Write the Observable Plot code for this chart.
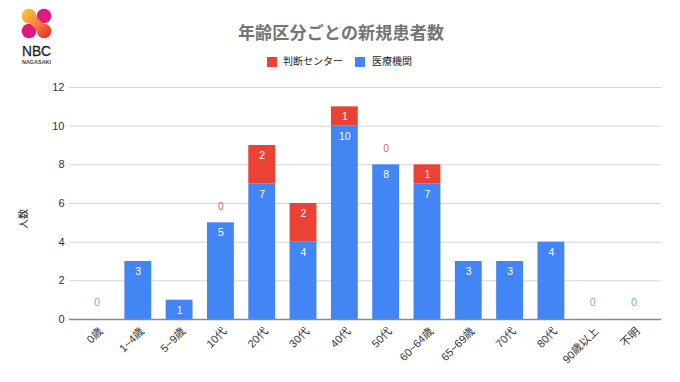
<!DOCTYPE html>
<html><head><meta charset="utf-8">
<script src="https://cdn.jsdelivr.net/npm/d3@7"></script>
<script src="https://cdn.jsdelivr.net/npm/@observablehq/plot@0.6"></script>
<style>
html,body{margin:0;padding:0;background:#fff;width:680px;height:382px;overflow:hidden;font-family:"Liberation Sans","Noto Sans CJK JP",sans-serif}
#wrap{position:relative;width:680px;height:382px}
#title{position:absolute;left:0;width:680px;top:23px;text-align:center;padding-left:2px;box-sizing:border-box;font-size:17px;font-weight:700;color:#757575;line-height:22px;letter-spacing:.2px}
#legend{position:absolute;top:55px;left:267px;font-size:10px;color:#222;line-height:14px;white-space:nowrap}
#legend span.s{position:absolute;top:2px;width:10px;height:10px}
#legend span.t{position:absolute;top:0}
#logo{position:absolute;left:19px;top:6px}
#ytitle{position:absolute;left:4px;top:212px;width:40px;text-align:center;font-size:10px;line-height:14px;color:#222;transform:rotate(-90deg)}
svg.plot{position:absolute;left:0;top:0}
</style></head><body><div id="wrap">
<div id="chart"></div>
<svg id="logo" width="40" height="60" viewBox="0 0 40 60">
<defs><linearGradient id="g" gradientUnits="userSpaceOnUse" x1="5" y1="5" x2="31" y2="31"><stop offset="0" stop-color="#fcc43c"/><stop offset="0.55" stop-color="#f5793a"/><stop offset="1" stop-color="#ea2a2a"/></linearGradient></defs>
<path d="M25 10 L10 25" stroke="#de1a7c" stroke-width="9"/>
<circle cx="25" cy="10" r="7.3" fill="#de1a7c"/><circle cx="10" cy="25" r="7.3" fill="#de1a7c"/>
<path d="M10 10 L25 25" stroke="url(#g)" stroke-width="9"/>
<circle cx="10" cy="10" r="7.3" fill="url(#g)"/><circle cx="25" cy="25" r="7.3" fill="url(#g)"/>
<text x="3" y="50" font-family="Liberation Sans" font-size="15" fill="#222" stroke="#222" stroke-width="0.3" textLength="29" lengthAdjust="spacingAndGlyphs">NBC</text>
<text x="3" y="57.5" font-family="Liberation Sans" font-size="5" font-weight="700" fill="#444" textLength="29" lengthAdjust="spacingAndGlyphs">NAGASAKI</text>
</svg>
<div id="title">年齢区分ごとの新規患者数</div>
<div id="legend"></div>
<div id="ytitle">人数</div>
</div>
<script>
const categories = ["0歳","1~4歳","5~9歳","10代","20代","30代","40代","50代","60~64歳","65~69歳","70代","80代","90歳以上","不明"];
const hospital = [0,3,1,5,7,4,10,8,7,3,3,4,0,0];
const center = [0,0,0,0,2,2,1,0,1,0,0,0,0,0];
const zeroCenterLabels = ["10代","50代"];
const zeroHospitalLabels = ["0歳","90歳以上","不明"];
const seriesNames = ["判断センター","医療機関"];
const seriesColors = ["#ea4335","#4285f4"];
const yTicks = [0,2,4,6,8,10,12];

const rows = categories.flatMap((c,i)=>[
  {c, s:seriesNames[1], v:hospital[i], base:0},
  {c, s:seriesNames[0], v:center[i], base:hospital[i]}
]);
const plot = Plot.plot({
  width:680, height:382,
  marginLeft:69, marginRight:19, marginTop:87, marginBottom:63,
  style:{background:"transparent", fontFamily:'"Liberation Sans","Noto Sans CJK JP",sans-serif'},
  x:{domain:categories, type:"band", paddingInner:0.35, paddingOuter:0.34, align:0.5, round:false, label:null},
  y:{domain:[0,12], label:null},
  color:{domain:seriesNames, range:seriesColors},
  marks:[
    Plot.ruleY(yTicks.filter(d=>d>0),{stroke:"#d6d6d6",strokeWidth:1}),
    Plot.rectY(rows.filter(d=>d.v>0),{x:"c",y1:"base",y2:d=>d.base+d.v,fill:"s"}),
    Plot.ruleY([0],{stroke:"#8a8a8a",strokeWidth:1.5}),
    Plot.axisY({ticks:yTicks,tickSize:0,tickPadding:5,fontSize:11,color:"#333",label:null}),
    Plot.axisX({tickSize:0,tickPadding:10,tickRotate:-45,fontSize:11,color:"#333",label:null,textAnchor:"end",dx:4}),
    Plot.text(rows.filter(d=>d.v>0),{x:"c",y:d=>d.base+d.v,text:"v",dy:10,fill:"#fff",fontSize:10.5}),
    Plot.text(zeroHospitalLabels,{x:d=>d,y:()=>1,text:()=>"0",fill:"#7ba7e8",fontSize:10.5,dy:2}),
    Plot.text(zeroCenterLabels,{x:d=>d,y:d=>hospital[categories.indexOf(d)],text:()=>"0",fill:"#d9695e",fontSize:10.5,dy:-16})
  ]
});
document.getElementById("chart").appendChild(plot);
const legend=document.getElementById("legend");
const pos=[[0,16],[88,105]];
seriesNames.forEach((n,i)=>{
  legend.insertAdjacentHTML("beforeend",`<span class="s" style="left:${pos[i][0]}px;background:${seriesColors[i]}"></span><span class="t" style="left:${pos[i][1]}px">${n}</span>`);
});
</script></body></html>
